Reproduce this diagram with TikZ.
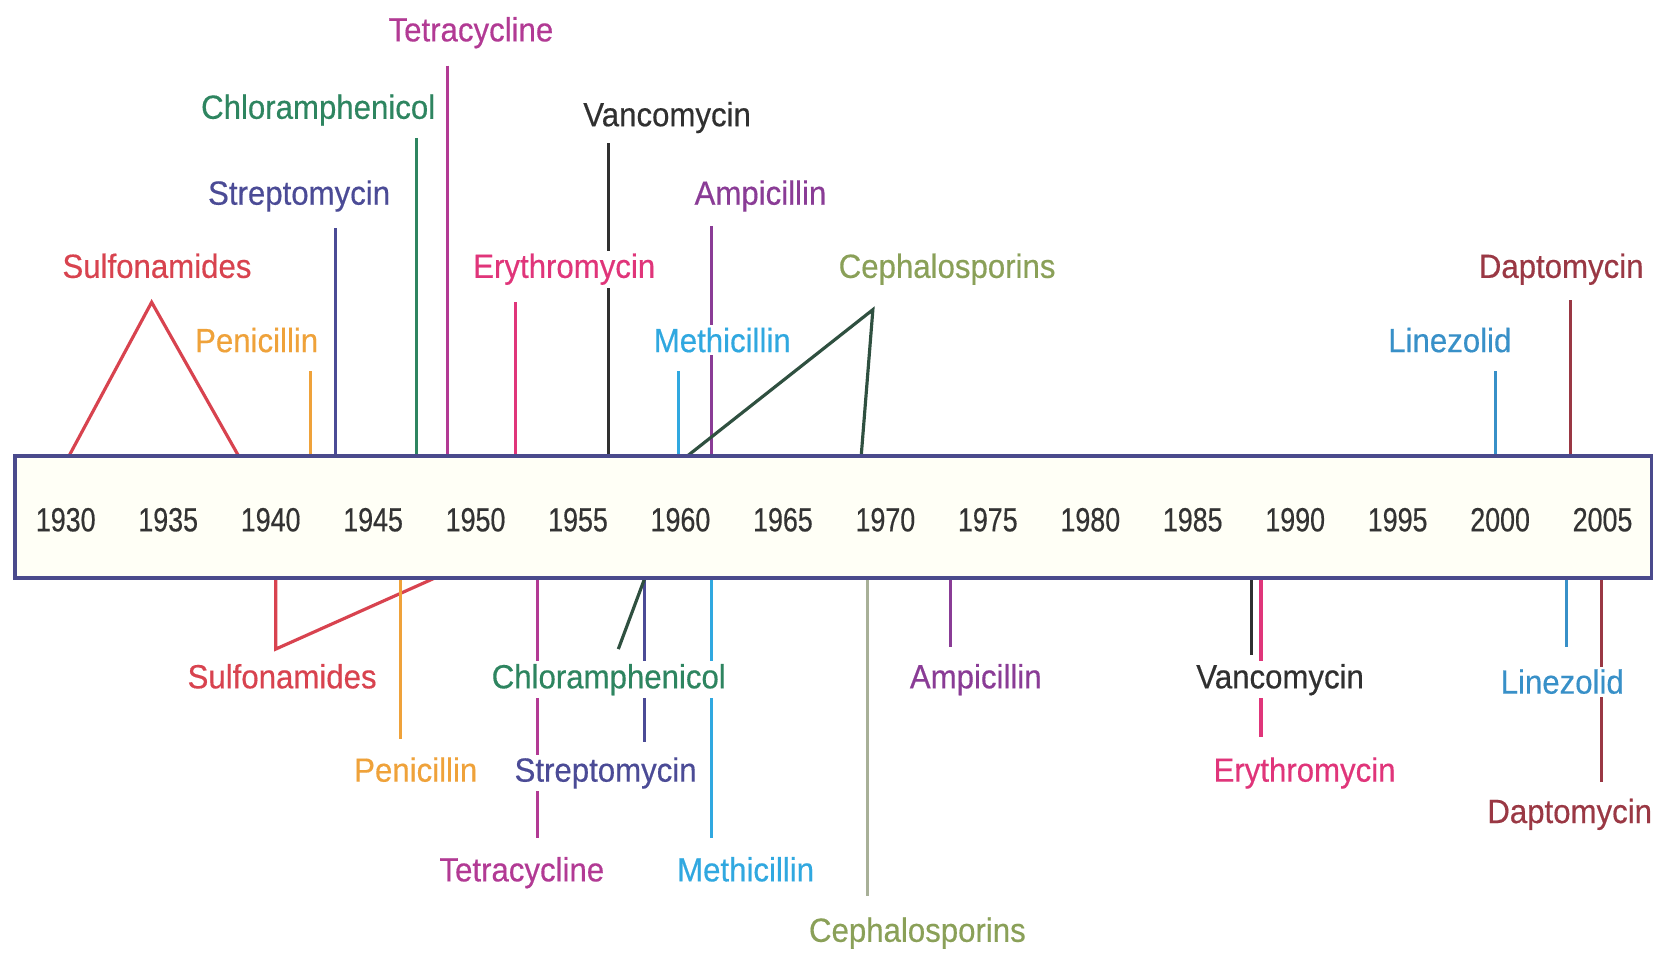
\documentclass[tikz,border=0pt]{standalone}
\usepackage{fontspec}
\setmainfont[FakeStretch=0.93,FakeBold=0.4]{Liberation Sans}
\newfontfamily\yearfont[FakeStretch=0.8,FakeBold=0.4]{Liberation Sans}
\usetikzlibrary{backgrounds}
\definecolor{boxblue}{HTML}{4A4A8C}
\definecolor{boxfill}{HTML}{FFFFF6}
\definecolor{yeargray}{HTML}{333333}
\definecolor{sulfaC}{HTML}{D8434F}
\definecolor{penC}{HTML}{EFA23A}
\definecolor{strepC}{HTML}{4B4B96}
\definecolor{chlorC}{HTML}{2E8560}
\definecolor{tetraC}{HTML}{B23A94}
\definecolor{eryC}{HTML}{E0357A}
\definecolor{vancC}{HTML}{303030}
\definecolor{ampC}{HTML}{8A3C96}
\definecolor{methC}{HTML}{30A8E0}
\definecolor{cephC}{HTML}{8AA058}
\definecolor{cephL}{HTML}{A8B098}
\definecolor{cephD}{HTML}{2F5040}
\definecolor{linC}{HTML}{3890C8}
\definecolor{dapC}{HTML}{9A3844}
\begin{document}
\begin{tikzpicture}[x=0.02cm,y=-0.02cm,
  lbl/.style={font=\fontsize{18}{20}\selectfont, fill=white, inner sep=1.5pt, anchor=base},
  yr/.style={font=\yearfont\fontsize{18}{20}\selectfont, text=yeargray, anchor=base},
  tick/.style={line width=1.7pt},
]
\useasboundingbox (0,0) rectangle (1568,901);
\node[draw=boxblue, line width=1.8pt, fill=boxfill, minimum width=30.86cm,
      minimum height=2.3cm, inner sep=0pt] (box) at (785.5,487.5) {};
\foreach \yy [count=\i from 0] in {1930,1935,...,2005}
  \node[yr] (y\yy) at ({62+\i*96.6},501) {\yy};

% top labels
\node[lbl, text=sulfaC] (sulT) at (148,262) {Sulfonamides};
\node[lbl, text=penC] (penT) at (242,332) {Penicillin};
\node[lbl, text=strepC] (strT) at (282,193) {Streptomycin};
\node[lbl, text=chlorC] (chlT) at (300,112) {Chloramphenicol};
\node[lbl, text=tetraC] (tetT) at (444,39) {Tetracycline};
\node[lbl, text=eryC] (eryT) at (532,262) {Erythromycin};
\node[lbl, text=vancC] (vanT) at (629,119) {Vancomycin};
\node[lbl, text=ampC] (ampT) at (717,193) {Ampicillin};
\node[lbl, text=methC] (metT) at (681,332) {Methicillin};
\node[lbl, text=cephC] (cepT) at (893,262) {Cephalosporins};
\node[lbl, text=linC] (linT) at (1367,332) {Linezolid};
\node[lbl, text=dapC] (dapT) at (1472,262) {Daptomycin};

% bottom labels
\node[lbl, text=sulfaC] (sulB) at (266,649) {Sulfonamides};
\node[lbl, text=penC] (penB) at (392,737) {Penicillin};
\node[lbl, text=chlorC] (chlB) at (574,649) {Chloramphenicol};
\node[lbl, text=strepC] (strB) at (571,737) {Streptomycin};
\node[lbl, text=tetraC] (tetB) at (492,831) {Tetracycline};
\node[lbl, text=methC] (metB) at (703,831) {Methicillin};
\node[lbl, text=cephC] (cepB) at (865,888) {Cephalosporins};
\node[lbl, text=ampC] (ampB) at (920,649) {Ampicillin};
\node[lbl, text=vancC] (vanB) at (1207,649) {Vancomycin};
\node[lbl, text=eryC] (eryB) at (1230,737) {Erythromycin};
\node[lbl, text=linC] (linB) at (1473,654) {Linezolid};
\node[lbl, text=dapC] (dapB) at (1480,776) {Daptomycin};

% line end coordinates (top)
\coordinate (sulA) at (143,285);
\coordinate (sulL) at (65,430);
\coordinate (sulR) at (225,430);
\coordinate (penA) at (293,350);
\coordinate (strA) at (316,215);
\coordinate (chlA) at (393,130);
\coordinate (tetA) at (422,62);
\coordinate (eryA) at (486,285);
\coordinate (vanA) at (574,135);
\coordinate (ampA) at (671,213);
\coordinate (metA) at (640,350);
\coordinate (cepA) at (823,292);
\coordinate (cepL) at (648,430);
\coordinate (cepR) at (812,430);
\coordinate (linA) at (1410,350);
\coordinate (dapA) at (1481,283);
% line end coordinates (bottom)
\coordinate (sulC) at (260,612);
\coordinate (sulE) at (410,545);
\coordinate (sulS) at (260,545);
\coordinate (penZ) at (378,697);
\coordinate (chlZ) at (583,612);
\coordinate (chlE) at (608,545);
\coordinate (strZ) at (608,700);
\coordinate (tetZ) at (507,790);
\coordinate (metZ) at (671,790);
\coordinate (cepZ) at (818,845);
\coordinate (ampZ) at (896,610);
\coordinate (vanZ) at (1180,618);
\coordinate (eryZ) at (1189,695);
\coordinate (linZ) at (1477,610);
\coordinate (dapZ) at (1510,737);

\begin{scope}[on background layer]
  % top
  \draw[tick, sulfaC] (sulL) -- (sulA) -- (sulR);
  \draw[tick, penC] (penA) -- (penA |- box.north);
  \draw[tick, strepC] (strA) -- (strA |- box.north);
  \draw[tick, chlorC] (chlA) -- (chlA |- box.north);
  \draw[tick, tetraC] (tetA) -- (tetA |- box.north);
  \draw[tick, eryC] (eryA) -- (eryA |- box.north);
  \draw[tick, vancC] (vanA) -- (vanA |- box.north);
  \draw[tick, ampC] (ampA) -- (ampA |- box.north);
  \draw[tick, methC] (metA) -- (metA |- box.north);
  \draw[tick, cephD] (cepL) -- (cepA) -- (cepR);
  \draw[tick, linC] (linA) -- (linA |- box.north);
  \draw[tick, dapC] (dapA) -- (dapA |- box.north);
  % bottom
  \draw[tick, sulfaC] (sulS) -- (sulC) -- (sulE);
  \draw[tick, penC] (penZ |- box.south) -- (penZ);
  \draw[tick, strepC] (strZ |- box.south) -- (strZ);
  \draw[tick, cephD] (chlZ) -- (chlE);
  \draw[tick, tetraC] (tetZ |- box.south) -- (tetZ);
  \draw[tick, methC] (metZ |- box.south) -- (metZ);
  \draw[tick, cephL] (cepZ |- box.south) -- (cepZ);
  \draw[tick, ampC] (ampZ |- box.south) -- (ampZ);
  \draw[tick, vancC] (vanZ |- box.south) -- (vanZ);
  \draw[tick, eryC] (eryZ |- box.south) -- (eryZ);
  \draw[tick, linC] (linZ |- box.south) -- (linZ);
  \draw[tick, dapC] (dapZ |- box.south) -- (dapZ);
\end{scope}
\end{tikzpicture}
\end{document}
